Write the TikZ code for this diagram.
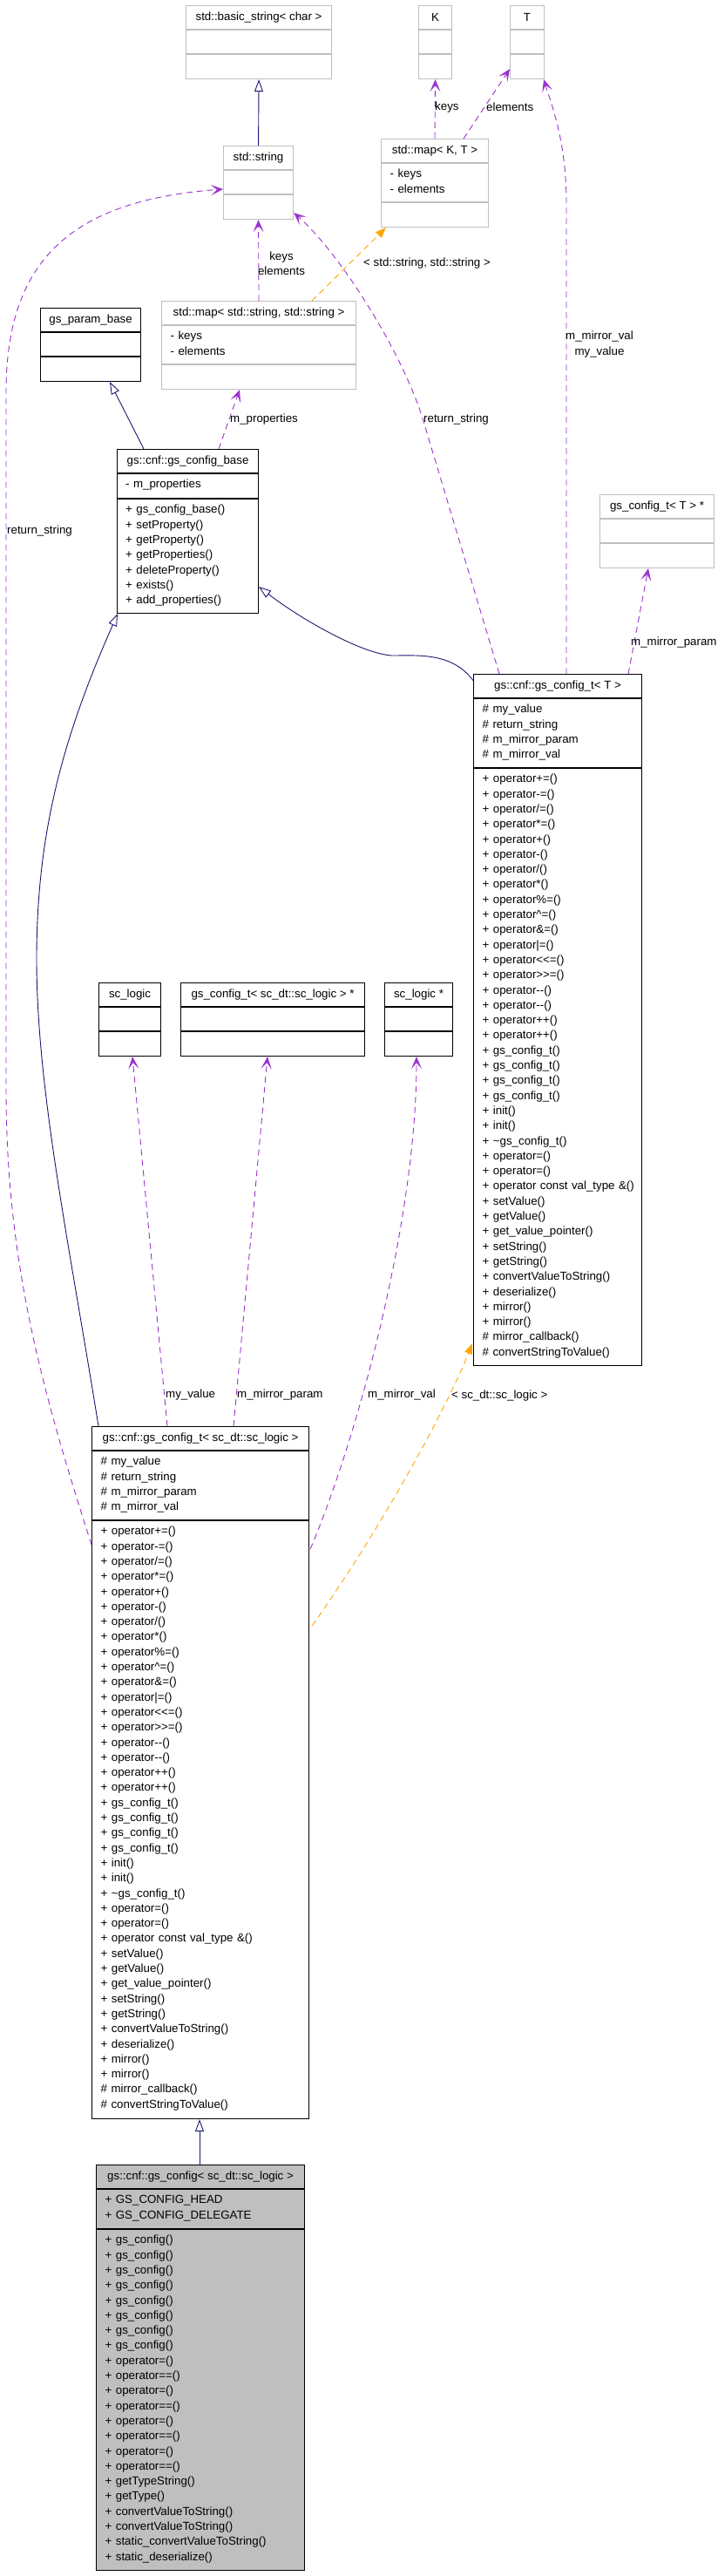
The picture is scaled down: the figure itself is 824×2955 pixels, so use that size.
\documentclass[tikz,border=0pt]{standalone}
\usepackage{fontspec}
\setmainfont{Liberation Sans}
\usetikzlibrary{arrows.meta,calc}
\definecolor{edgeP}{HTML}{9A32CD}
\definecolor{edgeB}{HTML}{191970}
\definecolor{edgeO}{HTML}{FFA500}
\definecolor{boxG}{HTML}{BFBFBF}
\newcommand\dgfont{\fontsize{13.3}{17.3}\selectfont}
\newcommand\dgsep[3]{\draw[#1] ($(#2.north west)+(0,#3)$) -- ($(#2.north east)+(0,#3)$);}
\newcommand\dgmethods{%
+ operator+=()\\+ operator-=()\\+ operator/=()\\+ operator*=()\\%
+ operator+()\\+ operator-()\\+ operator/()\\+ operator*()\\%
+ operator\%=()\\+ operator\textasciicircum=()\\+ operator\&=()\\+ operator|=()\\%
+ operator<{}<=()\\+ operator>{}>=()\\+ operator-{}-()\\+ operator-{}-()\\%
+ operator++()\\+ operator++()\\%
+ gs\_config\_t()\\+ gs\_config\_t()\\+ gs\_config\_t()\\+ gs\_config\_t()\\%
+ init()\\+ init()\\+ \textasciitilde gs\_config\_t()\\%
+ operator=()\\+ operator=()\\+ operator const val\_type \&()\\%
+ setValue()\\+ getValue()\\+ get\_value\_pointer()\\+ setString()\\+ getString()\\%
+ convertValueToString()\\+ deserialize()\\+ mirror()\\+ mirror()\\%
\# mirror\_callback()\\\# convertStringToValue()}
\newcommand\dgattrs{\# my\_value\\\# return\_string\\\# m\_mirror\_param\\\# m\_mirror\_val}
\begin{document}
\begin{tikzpicture}[x=1pt,y=-1pt,font=\dgfont,
  clsB/.style={draw=black,line width=1.1pt,anchor=north west,inner sep=0pt},
  clsG/.style={draw=boxG,line width=1.1pt,anchor=north west,inner sep=0pt},
  sepB/.style={draw=black,line width=1.1pt},
  sepG/.style={draw=boxG,line width=1.1pt},
  hdr/.style={anchor=center,inner sep=0pt},
  lst/.style={anchor=north west,inner sep=0pt,text width=240pt,align=left,execute at begin node=\strut},
  lbl/.style={anchor=west,inner sep=0pt},
  lblc/.style={anchor=center,inner sep=0pt,align=center},
  uses/.style={draw=edgeP,line width=0.9pt,dash pattern=on 7pt off 5pt,-{Stealth[length=14pt,width=12pt,inset=7pt]}},
  inh/.style={draw=edgeB,line width=0.9pt,-{Triangle[open,length=14pt,width=10pt]}},
  tmpl/.style={draw=edgeO,line width=0.9pt,dash pattern=on 7pt off 5pt,-{Triangle[length=12pt,width=9pt]}}]
\fill[white] (0,0) rectangle (824,2955);
\useasboundingbox (0,0) rectangle (824,2955);

% ---- std::basic_string< char >
\node[clsG,minimum width=167pt,minimum height=84pt] (bstr) at (213,6) {};
\dgsep{sepG}{bstr}{28}\dgsep{sepG}{bstr}{56}
\node[hdr] (bstrh) at ($(bstr.north)+(0,14)$) {std::basic\_string< char >};
% ---- K
\node[clsG,minimum width=38pt,minimum height=84pt] (kbox) at (480,6) {};
\dgsep{sepG}{kbox}{28}\dgsep{sepG}{kbox}{56}
\node[hdr] (kboxh) at ($(kbox.north)+(0,14)$) {K};
% ---- T
\node[clsG,minimum width=39pt,minimum height=84pt] (tbox) at (585,6) {};
\dgsep{sepG}{tbox}{28}\dgsep{sepG}{tbox}{56}
\node[hdr] (tboxh) at ($(tbox.north)+(0,14)$) {T};
% ---- std::string
\node[clsG,minimum width=80pt,minimum height=84pt] (sstr) at (256,167) {};
\dgsep{sepG}{sstr}{28}\dgsep{sepG}{sstr}{56}
\node[hdr] (sstrh) at ($(sstr.north)+(0,14)$) {std::string};
% ---- std::map< K, T >
\node[clsG,minimum width=123pt,minimum height=101pt] (mapKT) at (437,159) {};
\dgsep{sepG}{mapKT}{28}\dgsep{sepG}{mapKT}{73}
\node[hdr] (mapKTh) at ($(mapKT.north)+(0,14)$) {std::map< K, T >};
\node[lst] (mapKTa) at ($(mapKT.north west)+(10.5,32.5)$) {- keys\\- elements};
% ---- std::map< std::string, std::string >
\node[clsG,minimum width=223pt,minimum height=101pt] (mapSS) at (185,345) {};
\dgsep{sepG}{mapSS}{28}\dgsep{sepG}{mapSS}{73}
\node[hdr] (mapSSh) at ($(mapSS.north)+(0,14)$) {std::map< std::string, std::string >};
\node[lst] (mapSSa) at ($(mapSS.north west)+(10.5,32.5)$) {- keys\\- elements};
% ---- gs_param_base
\node[clsB,minimum width=115pt,minimum height=84pt] (pbase) at (46,353) {};
\dgsep{sepB}{pbase}{28}\dgsep{sepB}{pbase}{56}
\node[hdr] (pbaseh) at ($(pbase.north)+(0,14)$) {gs\_param\_base};
% ---- gs::cnf::gs_config_base
\node[clsB,minimum width=162pt,minimum height=188pt] (cbase) at (134,515) {};
\dgsep{sepB}{cbase}{28}\dgsep{sepB}{cbase}{57}
\node[hdr] (cbaseh) at ($(cbase.north)+(0,14)$) {gs::cnf::gs\_config\_base};
\node[lst] (cbasea) at ($(cbase.north west)+(10,32.5)$) {- m\_properties};
\node[lst] (cbasem) at ($(cbase.north west)+(10,61.5)$) {+ gs\_config\_base()\\+ setProperty()\\+ getProperty()\\+ getProperties()\\+ deleteProperty()\\+ exists()\\+ add\_properties()};
% ---- gs_config_t< T > *
\node[clsG,minimum width=131pt,minimum height=84pt] (ctp) at (688,567) {};
\dgsep{sepG}{ctp}{28}\dgsep{sepG}{ctp}{56}
\node[hdr] (ctph) at ($(ctp.north)+(0,14)$) {gs\_config\_t< T > *};
% ---- gs::cnf::gs_config_t< T >
\node[clsB,minimum width=193pt,minimum height=793pt] (cfgT) at (543,773) {};
\dgsep{sepB}{cfgT}{28}\dgsep{sepB}{cfgT}{108}
\node[hdr] (cfgTh) at ($(cfgT.north)+(0,14)$) {gs::cnf::gs\_config\_t< T >};
\node[lst] (cfgTa) at ($(cfgT.north west)+(10.5,32.5)$) {\dgattrs};
\node[lst] (cfgTm) at ($(cfgT.north west)+(10.5,112.5)$) {\dgmethods};
% ---- sc_logic
\node[clsB,minimum width=71pt,minimum height=84pt] (scl) at (113,1127) {};
\dgsep{sepB}{scl}{28}\dgsep{sepB}{scl}{56}
\node[hdr] (sclh) at ($(scl.north)+(0,14)$) {sc\_logic};
% ---- gs_config_t< sc_dt::sc_logic > *
\node[clsB,minimum width=211pt,minimum height=84pt] (csp) at (207,1127) {};
\dgsep{sepB}{csp}{28}\dgsep{sepB}{csp}{56}
\node[hdr] (csph) at ($(csp.north)+(0,14)$) {gs\_config\_t< sc\_dt::sc\_logic > *};
% ---- sc_logic *
\node[clsB,minimum width=78pt,minimum height=84pt] (slp) at (441,1127) {};
\dgsep{sepB}{slp}{28}\dgsep{sepB}{slp}{56}
\node[hdr] (slph) at ($(slp.north)+(0,14)$) {sc\_logic *};
% ---- gs::cnf::gs_config_t< sc_dt::sc_logic >
\node[clsB,minimum width=249pt,minimum height=794pt] (cfgL) at (105,1636) {};
\dgsep{sepB}{cfgL}{28}\dgsep{sepB}{cfgL}{108}
\node[hdr] (cfgLh) at ($(cfgL.north)+(0,14)$) {gs::cnf::gs\_config\_t< sc\_dt::sc\_logic >};
\node[lst] (cfgLa) at ($(cfgL.north west)+(10.5,32.5)$) {\dgattrs};
\node[lst] (cfgLm) at ($(cfgL.north west)+(10.5,112.5)$) {\dgmethods};
% ---- gs::cnf::gs_config< sc_dt::sc_logic >
\node[clsB,fill=boxG,minimum width=239pt,minimum height=465pt] (gcfg) at (110,2483) {};
\dgsep{sepB}{gcfg}{28}\dgsep{sepB}{gcfg}{74}
\node[hdr] (gcfgh) at ($(gcfg.north)+(0,14)$) {gs::cnf::gs\_config< sc\_dt::sc\_logic >};
\node[lst] (gcfga) at ($(gcfg.north west)+(10.5,32.5)$) {+ GS\_CONFIG\_HEAD\\+ GS\_CONFIG\_DELEGATE};
\node[lst] (gcfgm) at ($(gcfg.north west)+(10.5,78.5)$) {+ gs\_config()\\+ gs\_config()\\+ gs\_config()\\+ gs\_config()\\+ gs\_config()\\+ gs\_config()\\+ gs\_config()\\+ gs\_config()\\+ operator=()\\+ operator==()\\+ operator=()\\+ operator==()\\+ operator=()\\+ operator==()\\+ operator=()\\+ operator==()\\+ getTypeString()\\+ getType()\\+ convertValueToString()\\+ convertValueToString()\\+ static\_convertValueToString()\\+ static\_deserialize()};

% ================= connectors
\draw[inh] (sstr.north) -- (bstr.south);
\draw[uses] ($(mapKT.north west)+(62,0)$) -- (kbox.south);
\draw[uses] ($(mapKT.north west)+(95,0)$) -- ($(tbox.south west)+(0,-12)$);
\draw[uses] ($(cfgT.north west)+(107,0)$) -- (650,233) .. controls (650,160) and (632,118) .. ($(tbox.south east)+(-1,0)$);
\draw[uses] (mapSS.north) -- (sstr.south);
\draw[tmpl] ($(mapSS.north west)+(173,0)$) -- ($(mapKT.south west)+(6,0)$);
\draw[uses] ($(cfgT.north west)+(30,0)$) -- (485,480) .. controls (462,405) and (390,290) .. ($(sstr.south east)+(0,-8)$);
\draw[uses] ($(cfgT.north west)+(178,0)$) -- ($(ctp.south west)+(56,0)$);
\draw[uses] ($(cbase.north west)+(117,0)$) -- ($(mapSS.south west)+(90,0)$);
\draw[inh] ($(cbase.north west)+(31,0)$) -- ($(pbase.south west)+(80,0)$);
\draw[inh] ($(cfgT.north west)+(1,9)$) .. controls (520,748) and (480,752) .. (450,752) .. controls (415,750) and (345,710) .. ($(cbase.south east)+(0,-31)$);
\draw[inh] ($(cfgL.north west)+(8,0)$) .. controls (80,1430) and (42,1250) .. (42,1100) .. controls (42,950) and (75,840) .. ($(cbase.south west)+(1,0)$);
\draw[uses] ($(cfgL.north west)+(0,136)$) .. controls (50,1600) and (7,1450) .. (7,1250) -- (7,450) .. controls (7,300) and (80,230) .. ($(sstr.north west)+(0,50)$);
\draw[uses] ($(cfgL.north west)+(87,0)$) -- ($(scl.south west)+(39,0)$);
\draw[uses] ($(cfgL.north west)+(163,0)$) -- ($(csp.south west)+(100,0)$);
\draw[uses] ($(cfgL.north east)+(1,141)$) .. controls (410,1650) and (478,1400) .. ($(slp.south west)+(37,0)$);
\draw[tmpl] ($(cfgL.north east)+(3,229)$) .. controls (440,1750) and (515,1610) .. ($(cfgT.south west)+(-1,-26)$);
\draw[inh] ($(gcfg.north west)+(119,0)$) -- ($(cfgL.south west)+(124,0)$);

% ================= labels
\node[lbl] (l1) at (499,123) {keys};
\node[lbl] (l2) at (558,123) {elements};
\node[lblc] (l3) at (688,395) {m\_mirror\_val\\my\_value};
\node[lblc] (l4) at (323,302) {keys\\elements};
\node[lbl] (l5) at (417,302) {< std::string, std::string >};
\node[lbl] (l6) at (486,481) {return\_string};
\node[lbl] (l7) at (724,737) {m\_mirror\_param};
\node[lbl] (l8) at (264,481) {m\_properties};
\node[lbl] (l9) at (8,609) {return\_string};
\node[lbl] (l10) at (190,1600) {my\_value};
\node[lbl] (l11) at (272,1600) {m\_mirror\_param};
\node[lbl] (l12) at (422,1600) {m\_mirror\_val};
\node[lbl] (l13) at (518,1601) {< sc\_dt::sc\_logic >};
\end{tikzpicture}
\end{document}
